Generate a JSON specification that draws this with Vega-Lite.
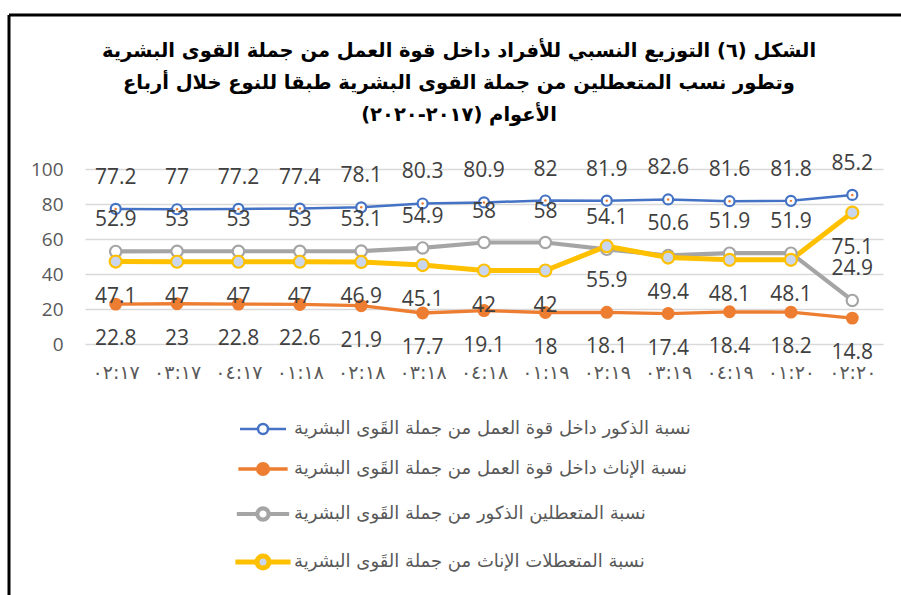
{
  "$schema": "https://vega.github.io/schema/vega-lite/v6.json",
  "width": 892,
  "height": 580,
  "autosize": "none",
  "padding": {"left": 9, "top": 15, "right": 0, "bottom": 0},
  "background": "white",
  "config": {
    "view": {"stroke": "#000000", "strokeWidth": 3, "strokeDash": [892, 1472, 580, 0]},
    "font": "DejaVu Sans"
  },
  "title": {
    "text": [
      "الشكل (٦) التوزيع النسبي للأفراد داخل قوة العمل من جملة القوى البشرية",
      "وتطور نسب المتعطلين من جملة القوى البشرية طبقا للنوع خلال أرباع",
      "الأعوام (٢٠١٧-٢٠٢٠)\u200f"
    ],
    "font": "DejaVu Sans",
    "fontSize": 19.5,
    "fontWeight": "bold",
    "color": "#000000",
    "anchor": "middle",
    "frame": "group",
    "baseline": "top",
    "lineHeight": 32,
    "offset": -110,
    "dx": 4
  },
  "data": {
    "values": [
      {"q": "٠٢:١٧", "series": "نسبة الذكور داخل قوة العمل من جملة القَوى البشرية", "value": 77.2},
      {"q": "٠٣:١٧", "series": "نسبة الذكور داخل قوة العمل من جملة القَوى البشرية", "value": 77},
      {"q": "٠٤:١٧", "series": "نسبة الذكور داخل قوة العمل من جملة القَوى البشرية", "value": 77.2},
      {"q": "٠١:١٨", "series": "نسبة الذكور داخل قوة العمل من جملة القَوى البشرية", "value": 77.4},
      {"q": "٠٢:١٨", "series": "نسبة الذكور داخل قوة العمل من جملة القَوى البشرية", "value": 78.1},
      {"q": "٠٣:١٨", "series": "نسبة الذكور داخل قوة العمل من جملة القَوى البشرية", "value": 80.3},
      {"q": "٠٤:١٨", "series": "نسبة الذكور داخل قوة العمل من جملة القَوى البشرية", "value": 80.9},
      {"q": "٠١:١٩", "series": "نسبة الذكور داخل قوة العمل من جملة القَوى البشرية", "value": 82},
      {"q": "٠٢:١٩", "series": "نسبة الذكور داخل قوة العمل من جملة القَوى البشرية", "value": 81.9},
      {"q": "٠٣:١٩", "series": "نسبة الذكور داخل قوة العمل من جملة القَوى البشرية", "value": 82.6},
      {"q": "٠٤:١٩", "series": "نسبة الذكور داخل قوة العمل من جملة القَوى البشرية", "value": 81.6},
      {"q": "٠١:٢٠", "series": "نسبة الذكور داخل قوة العمل من جملة القَوى البشرية", "value": 81.8},
      {"q": "٠٢:٢٠", "series": "نسبة الذكور داخل قوة العمل من جملة القَوى البشرية", "value": 85.2},
      {"q": "٠٢:١٧", "series": "نسبة الإناث داخل قوة العمل من جملة القَوى البشرية", "value": 22.8},
      {"q": "٠٣:١٧", "series": "نسبة الإناث داخل قوة العمل من جملة القَوى البشرية", "value": 23},
      {"q": "٠٤:١٧", "series": "نسبة الإناث داخل قوة العمل من جملة القَوى البشرية", "value": 22.8},
      {"q": "٠١:١٨", "series": "نسبة الإناث داخل قوة العمل من جملة القَوى البشرية", "value": 22.6},
      {"q": "٠٢:١٨", "series": "نسبة الإناث داخل قوة العمل من جملة القَوى البشرية", "value": 21.9},
      {"q": "٠٣:١٨", "series": "نسبة الإناث داخل قوة العمل من جملة القَوى البشرية", "value": 17.7},
      {"q": "٠٤:١٨", "series": "نسبة الإناث داخل قوة العمل من جملة القَوى البشرية", "value": 19.1},
      {"q": "٠١:١٩", "series": "نسبة الإناث داخل قوة العمل من جملة القَوى البشرية", "value": 18},
      {"q": "٠٢:١٩", "series": "نسبة الإناث داخل قوة العمل من جملة القَوى البشرية", "value": 18.1},
      {"q": "٠٣:١٩", "series": "نسبة الإناث داخل قوة العمل من جملة القَوى البشرية", "value": 17.4},
      {"q": "٠٤:١٩", "series": "نسبة الإناث داخل قوة العمل من جملة القَوى البشرية", "value": 18.4},
      {"q": "٠١:٢٠", "series": "نسبة الإناث داخل قوة العمل من جملة القَوى البشرية", "value": 18.2},
      {"q": "٠٢:٢٠", "series": "نسبة الإناث داخل قوة العمل من جملة القَوى البشرية", "value": 14.8},
      {"q": "٠٢:١٧", "series": "نسبة المتعطلين الذكور من جملة القَوى البشرية", "value": 52.9},
      {"q": "٠٣:١٧", "series": "نسبة المتعطلين الذكور من جملة القَوى البشرية", "value": 53},
      {"q": "٠٤:١٧", "series": "نسبة المتعطلين الذكور من جملة القَوى البشرية", "value": 53},
      {"q": "٠١:١٨", "series": "نسبة المتعطلين الذكور من جملة القَوى البشرية", "value": 53},
      {"q": "٠٢:١٨", "series": "نسبة المتعطلين الذكور من جملة القَوى البشرية", "value": 53.1},
      {"q": "٠٣:١٨", "series": "نسبة المتعطلين الذكور من جملة القَوى البشرية", "value": 54.9},
      {"q": "٠٤:١٨", "series": "نسبة المتعطلين الذكور من جملة القَوى البشرية", "value": 58},
      {"q": "٠١:١٩", "series": "نسبة المتعطلين الذكور من جملة القَوى البشرية", "value": 58},
      {"q": "٠٢:١٩", "series": "نسبة المتعطلين الذكور من جملة القَوى البشرية", "value": 54.1},
      {"q": "٠٣:١٩", "series": "نسبة المتعطلين الذكور من جملة القَوى البشرية", "value": 50.6},
      {"q": "٠٤:١٩", "series": "نسبة المتعطلين الذكور من جملة القَوى البشرية", "value": 51.9},
      {"q": "٠١:٢٠", "series": "نسبة المتعطلين الذكور من جملة القَوى البشرية", "value": 51.9},
      {"q": "٠٢:٢٠", "series": "نسبة المتعطلين الذكور من جملة القَوى البشرية", "value": 24.9},
      {"q": "٠٢:١٧", "series": "نسبة المتعطلات الإناث من جملة القَوى البشرية", "value": 47.1},
      {"q": "٠٣:١٧", "series": "نسبة المتعطلات الإناث من جملة القَوى البشرية", "value": 47},
      {"q": "٠٤:١٧", "series": "نسبة المتعطلات الإناث من جملة القَوى البشرية", "value": 47},
      {"q": "٠١:١٨", "series": "نسبة المتعطلات الإناث من جملة القَوى البشرية", "value": 47},
      {"q": "٠٢:١٨", "series": "نسبة المتعطلات الإناث من جملة القَوى البشرية", "value": 46.9},
      {"q": "٠٣:١٨", "series": "نسبة المتعطلات الإناث من جملة القَوى البشرية", "value": 45.1},
      {"q": "٠٤:١٨", "series": "نسبة المتعطلات الإناث من جملة القَوى البشرية", "value": 42},
      {"q": "٠١:١٩", "series": "نسبة المتعطلات الإناث من جملة القَوى البشرية", "value": 42},
      {"q": "٠٢:١٩", "series": "نسبة المتعطلات الإناث من جملة القَوى البشرية", "value": 55.9},
      {"q": "٠٣:١٩", "series": "نسبة المتعطلات الإناث من جملة القَوى البشرية", "value": 49.4},
      {"q": "٠٤:١٩", "series": "نسبة المتعطلات الإناث من جملة القَوى البشرية", "value": 48.1},
      {"q": "٠١:٢٠", "series": "نسبة المتعطلات الإناث من جملة القَوى البشرية", "value": 48.1},
      {"q": "٠٢:٢٠", "series": "نسبة المتعطلات الإناث من جملة القَوى البشرية", "value": 75.1}
    ]
  },
  "encoding": {
    "x": {
      "field": "q",
      "type": "nominal",
      "sort": ["٠٢:١٧", "٠٣:١٧", "٠٤:١٧", "٠١:١٨", "٠٢:١٨", "٠٣:١٨", "٠٤:١٨", "٠١:١٩", "٠٢:١٩", "٠٣:١٩", "٠٤:١٩", "٠١:٢٠", "٠٢:٢٠"],
      "scale": {"type": "point", "padding": 0.5, "range": [76, 874]},
      "axis": {
        "title": null,
        "orient": "bottom",
        "domain": false,
        "ticks": false,
        "tickSize": 0,
        "labelPadding": 0,
        "offset": -223,
        "labelAngle": 0,
        "labelFont": "DejaVu Sans",
        "labelFontSize": 19,
        "labelColor": "#595959",
        "labelBaseline": "middle",
        "labelOverlap": false,
        "grid": false
      }
    },
    "y": {
      "field": "value",
      "type": "quantitative",
      "scale": {"domain": [0, 100], "range": [329, 154], "nice": false},
      "axis": {
        "title": null,
        "values": [0, 20, 40, 60, 80, 100],
        "domain": false,
        "ticks": false,
        "tickSize": 0,
        "labelPadding": 0,
        "offset": -54,
        "grid": true,
        "gridColor": "#d9d9d9",
        "gridWidth": 1.5,
        "labelFont": "Open Sans",
        "labelFontSize": 19,
        "labelColor": "#595959"
      }
    }
  },
  "layer": [
    {
      "mark": {"type": "line", "strokeJoin": "round", "strokeCap": "round"},
      "encoding": {
        "stroke": {
          "field": "series",
          "type": "nominal",
          "scale": {
            "domain": ["نسبة الذكور داخل قوة العمل من جملة القَوى البشرية", "نسبة الإناث داخل قوة العمل من جملة القَوى البشرية", "نسبة المتعطلين الذكور من جملة القَوى البشرية", "نسبة المتعطلات الإناث من جملة القَوى البشرية"],
            "range": ["#4472C4", "#ED7D31", "#A5A5A5", "#FFC000"]
          }
        },
        "strokeWidth": {
          "field": "series",
          "type": "nominal",
          "scale": {
            "domain": ["نسبة الذكور داخل قوة العمل من جملة القَوى البشرية", "نسبة الإناث داخل قوة العمل من جملة القَوى البشرية", "نسبة المتعطلين الذكور من جملة القَوى البشرية", "نسبة المتعطلات الإناث من جملة القَوى البشرية"],
            "range": [2.5, 5, 5, 5]
          },
          "legend": null
        }
      }
    },
    {
      "mark": {"type": "point", "shape": "circle", "opacity": 1, "strokeWidth": 2.2},
      "encoding": {
        "stroke": {
          "field": "series",
          "type": "nominal",
          "legend": {
            "title": null,
            "orient": "none",
            "legendX": 245,
            "legendY": 405,
            "direction": "vertical",
            "symbolType": "M -4.6 0 L -1 0 M 1 0 L 4.6 0 M -1 0 A 1 1 0 1 1 1 0 A 1 1 0 1 1 -1 0 Z",
            "symbolSize": 121,
            "symbolStrokeWidth": 3,
            "symbolOpacity": 1,
            "labelFont": "DejaVu Sans",
            "labelFontSize": 18,
            "labelColor": "#595959",
            "labelLimit": 0,
            "labelOffset": 22,
            "rowPadding": 17,
            "padding": 0
          }
        },
        "fill": {
          "field": "series",
          "type": "nominal",
          "scale": {
            "domain": ["نسبة الذكور داخل قوة العمل من جملة القَوى البشرية", "نسبة الإناث داخل قوة العمل من جملة القَوى البشرية", "نسبة المتعطلين الذكور من جملة القَوى البشرية", "نسبة المتعطلات الإناث من جملة القَوى البشرية"],
            "range": ["#ffffff", "#ED7D31", "#ffffff", "#C9D6EC"]
          },
          "legend": {
            "title": null,
            "orient": "none",
            "legendX": 245,
            "legendY": 405,
            "direction": "vertical",
            "symbolType": "M -4.6 0 L -1 0 M 1 0 L 4.6 0 M -1 0 A 1 1 0 1 1 1 0 A 1 1 0 1 1 -1 0 Z",
            "symbolSize": 121,
            "symbolStrokeWidth": 3,
            "symbolOpacity": 1,
            "labelFont": "DejaVu Sans",
            "labelFontSize": 18,
            "labelColor": "#595959",
            "labelLimit": 0,
            "labelOffset": 22,
            "rowPadding": 17,
            "padding": 0
          }
        },
        "size": {
          "field": "series",
          "type": "nominal",
          "scale": {
            "domain": ["نسبة الذكور داخل قوة العمل من جملة القَوى البشرية", "نسبة الإناث داخل قوة العمل من جملة القَوى البشرية", "نسبة المتعطلين الذكور من جملة القَوى البشرية", "نسبة المتعطلات الإناث من جملة القَوى البشرية"],
            "range": [100, 144, 100, 121]
          },
          "legend": null
        }
      }
    },
    {
      "transform": [{"filter": {"field": "series", "equal": "نسبة الذكور داخل قوة العمل من جملة القَوى البشرية"}}],
      "mark": {"type": "point", "shape": "circle", "filled": true, "opacity": 1, "size": 6, "color": "#ED7D31"}
    },
    {
      "transform": [{"filter": {"field": "series", "oneOf": ["نسبة الذكور داخل قوة العمل من جملة القَوى البشرية", "نسبة المتعطلين الذكور من جملة القَوى البشرية"]}}],
      "mark": {"type": "text", "dy": -31, "font": "Open Sans", "fontSize": 21, "color": "#404040", "baseline": "middle"},
      "encoding": {"text": {"field": "value", "type": "quantitative"}}
    },
    {
      "transform": [{"filter": {"field": "series", "oneOf": ["نسبة الإناث داخل قوة العمل من جملة القَوى البشرية", "نسبة المتعطلات الإناث من جملة القَوى البشرية"]}}],
      "mark": {"type": "text", "dy": 35, "font": "Open Sans", "fontSize": 21, "color": "#404040", "baseline": "middle"},
      "encoding": {"text": {"field": "value", "type": "quantitative"}}
    }
  ]
}
